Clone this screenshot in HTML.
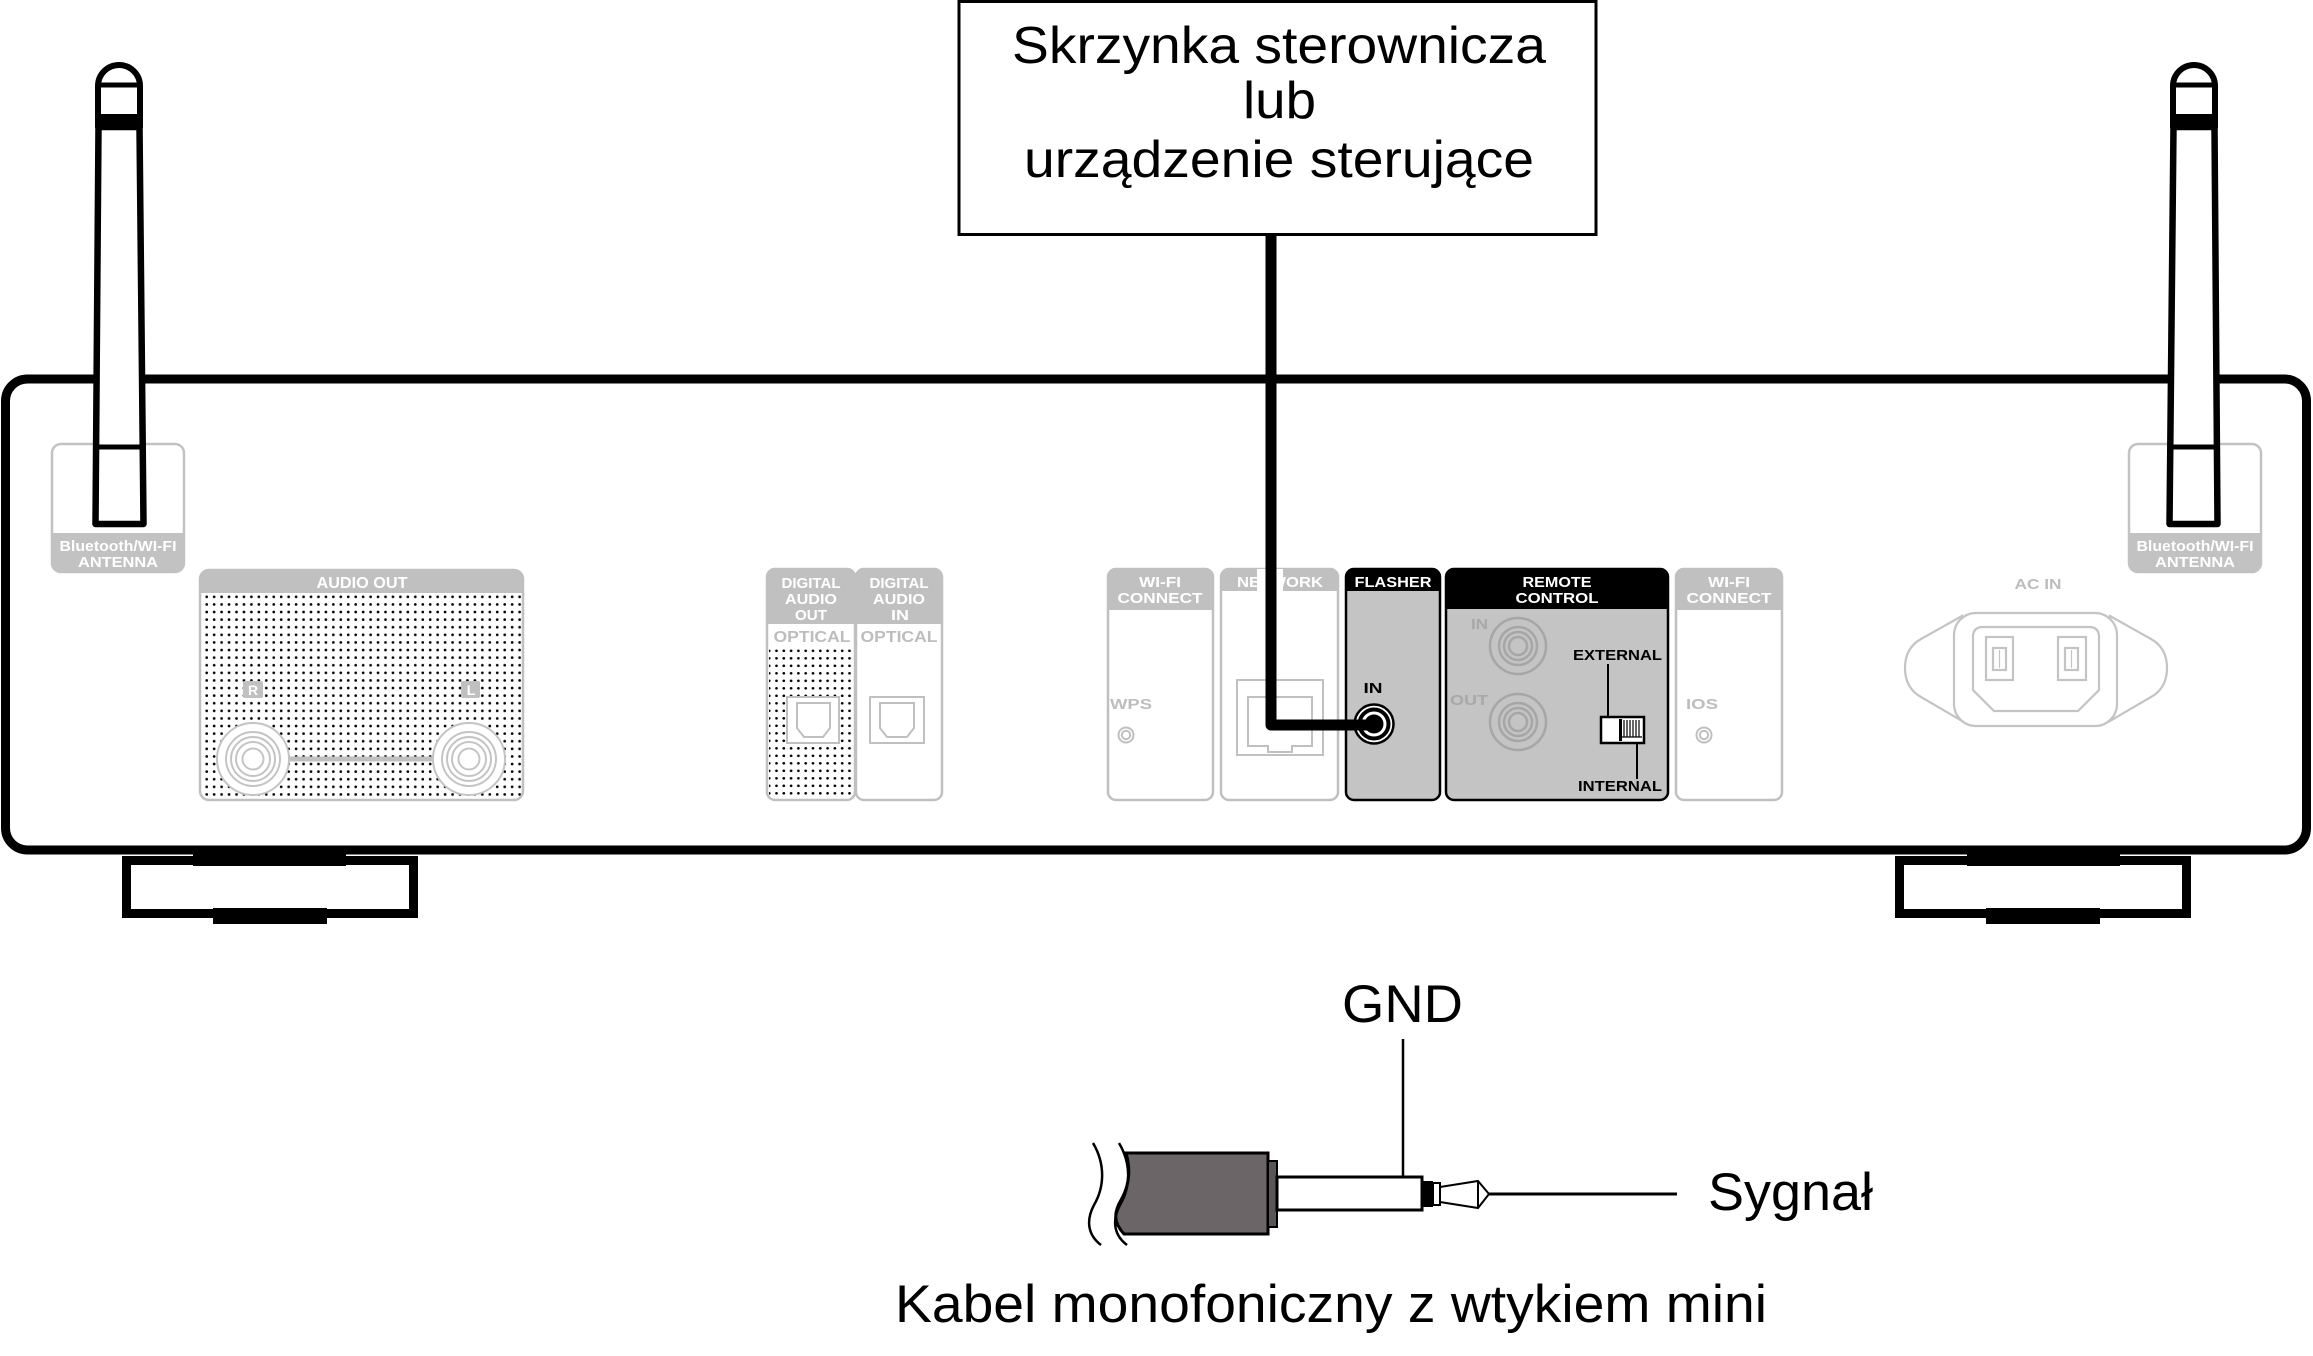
<!DOCTYPE html>
<html><head><meta charset="utf-8"><style>html,body{margin:0;padding:0;background:#fff}svg{display:block}</style></head>
<body>
<svg width="2313" height="1356" viewBox="0 0 2313 1356" xmlns="http://www.w3.org/2000/svg" font-family="Liberation Sans, Arial, sans-serif">
<defs>
<pattern id="dots" patternUnits="userSpaceOnUse" x="203" y="593" width="7.45" height="7.6"><circle cx="3.7" cy="3.8" r="1.35" fill="#000"/></pattern>
<pattern id="dots2" patternUnits="userSpaceOnUse" x="766" y="647" width="7.3" height="7.5"><circle cx="3.2" cy="3.8" r="1.35" fill="#000"/></pattern>
<g id="ant">
 <path d="M98.5 127 L95.5 524 H143.5 L139.5 127 Z" fill="#fff" stroke="#000" stroke-width="6.5" stroke-linejoin="round"/>
 <line x1="96" y1="447" x2="143" y2="447" stroke="#000" stroke-width="5"/>
 <path d="M98 122 V86 A21 21 0 0 1 140 86 V122" fill="#fff" stroke="#000" stroke-width="6"/>
 <line x1="98" y1="85" x2="140" y2="85" stroke="#000" stroke-width="5"/>
 <rect x="95" y="114" width="48" height="14" fill="#000"/>
</g>
<g id="foot">
 <rect x="126.5" y="860.5" width="287" height="53" fill="#fff" stroke="#000" stroke-width="9"/>
 <rect x="193" y="846" width="153" height="20" fill="#000"/>
 <rect x="213" y="908" width="114" height="16" fill="#000"/>
</g>
<g id="antbox">
 <rect x="52" y="444" width="132" height="128" rx="9" fill="#fff" stroke="#c2c2c2" stroke-width="2.5"/>
 <path d="M52 533 H184 V563 Q184 572 175 572 H61 Q52 572 52 563 Z" fill="#c2c2c2"/>
</g>
</defs>

<!-- control box -->
<rect x="959" y="1.5" width="637" height="233" fill="#fff" stroke="#000" stroke-width="3"/>
<g font-size="52" fill="#000">
<text x="1012" y="63" textLength="534" lengthAdjust="spacingAndGlyphs">Skrzynka sterownicza</text>
<text x="1243" y="118" textLength="73" lengthAdjust="spacingAndGlyphs">lub</text>
<text x="1024" y="177" textLength="510" lengthAdjust="spacingAndGlyphs">urządzenie sterujące</text>
</g>

<!-- chassis -->
<rect x="5.5" y="379" width="2301" height="471" rx="22" fill="#fff" stroke="#000" stroke-width="9"/>
<use href="#foot"/>
<use href="#foot" transform="translate(2313 0) scale(-1 1)"/>

<!-- antenna boxes -->
<use href="#antbox"/>
<use href="#antbox" transform="translate(2313 0) scale(-1 1)"/>
<use href="#ant"/>
<use href="#ant" transform="translate(2313 0) scale(-1 1)"/>
<g font-size="15" font-weight="bold" fill="#fff" text-anchor="middle">
<text x="118" y="551" textLength="117" lengthAdjust="spacingAndGlyphs">Bluetooth/WI-FI</text>
<text x="118" y="567" textLength="80" lengthAdjust="spacingAndGlyphs">ANTENNA</text>
<text x="2195" y="551" textLength="117" lengthAdjust="spacingAndGlyphs">Bluetooth/WI-FI</text>
<text x="2195" y="567" textLength="80" lengthAdjust="spacingAndGlyphs">ANTENNA</text>
</g>

<!-- AUDIO OUT -->
<rect x="200" y="570" width="323" height="230" rx="9" fill="#fff"/>
<rect x="202" y="593" width="319" height="205" fill="url(#dots)"/>
<path d="M200 593 V579 Q200 570 209 570 H514 Q523 570 523 579 V593 Z" fill="#c0c0c0"/>
<rect x="200" y="570" width="323" height="230" rx="9" fill="none" stroke="#c0c0c0" stroke-width="2.5"/>
<text x="362" y="588" font-size="15.5" font-weight="bold" fill="#fff" text-anchor="middle" textLength="91" lengthAdjust="spacingAndGlyphs">AUDIO OUT</text>
<rect x="243" y="681" width="20" height="17" rx="2" fill="#c0c0c0"/>
<rect x="461" y="681" width="19" height="17" rx="2" fill="#c0c0c0"/>
<text x="253" y="695" font-size="14" font-weight="bold" fill="#fff" text-anchor="middle">R</text>
<text x="471" y="695" font-size="14" font-weight="bold" fill="#fff" text-anchor="middle">L</text>
<rect x="288" y="756.5" width="146" height="5" fill="#c0c0c0"/>
<g fill="#fff" stroke="#c4c4c4" stroke-width="2">
<circle cx="253" cy="759" r="36"/><circle cx="253" cy="759" r="27"/><circle cx="253" cy="759" r="22"/><circle cx="253" cy="759" r="17"/><circle cx="253" cy="759" r="10.5"/>
<circle cx="469" cy="759" r="36"/><circle cx="469" cy="759" r="27"/><circle cx="469" cy="759" r="22"/><circle cx="469" cy="759" r="17"/><circle cx="469" cy="759" r="10.5"/>
</g>

<!-- DIGITAL AUDIO OUT / IN -->
<rect x="767" y="569" width="88" height="231" rx="8" fill="#fff"/>
<rect x="769" y="648" width="84" height="150" fill="url(#dots2)"/>
<path d="M767 624 V577 Q767 569 775 569 H847 Q855 569 855 577 V624 Z" fill="#c0c0c0"/>
<rect x="767" y="569" width="88" height="231" rx="8" fill="none" stroke="#c0c0c0" stroke-width="2.5"/>
<path d="M856 624 V577 Q856 569 864 569 H934 Q942 569 942 577 V624 Z" fill="#c0c0c0"/>
<rect x="856" y="569" width="86" height="231" rx="8" fill="none" stroke="#c0c0c0" stroke-width="2.5"/>
<g font-size="14.5" font-weight="bold" fill="#fff" text-anchor="middle">
<text x="811" y="588" textLength="59" lengthAdjust="spacingAndGlyphs">DIGITAL</text>
<text x="811" y="604" textLength="52" lengthAdjust="spacingAndGlyphs">AUDIO</text>
<text x="811" y="620" textLength="32" lengthAdjust="spacingAndGlyphs">OUT</text>
<text x="899" y="588" textLength="59" lengthAdjust="spacingAndGlyphs">DIGITAL</text>
<text x="899" y="604" textLength="52" lengthAdjust="spacingAndGlyphs">AUDIO</text>
<text x="900" y="620" textLength="18" lengthAdjust="spacingAndGlyphs">IN</text>
</g>
<g font-size="15.5" font-weight="bold" fill="#bdbdbd" text-anchor="middle">
<text x="812" y="642" textLength="77" lengthAdjust="spacingAndGlyphs">OPTICAL</text>
<text x="899" y="642" textLength="77" lengthAdjust="spacingAndGlyphs">OPTICAL</text>
</g>
<g fill="#fff" stroke="#c0c0c0" stroke-width="2">
<rect x="787" y="697" width="52" height="46"/>
<path d="M797 703 H830 V728 L823 737 H804 L797 728 Z"/>
<rect x="870" y="697" width="54" height="46"/>
<path d="M880 703 H914 V728 L907 737 H887 L880 728 Z"/>
</g>

<!-- WI-FI CONNECT left -->
<rect x="1108" y="569" width="105" height="231" rx="8" fill="#fff"/>
<path d="M1108 610 V577 Q1108 569 1116 569 H1205 Q1213 569 1213 577 V610 Z" fill="#c0c0c0"/>
<rect x="1108" y="569" width="105" height="231" rx="8" fill="none" stroke="#c0c0c0" stroke-width="2.5"/>
<!-- NETWORK -->
<rect x="1221" y="569" width="117" height="231" rx="8" fill="#fff"/>
<path d="M1221 591 V577 Q1221 569 1229 569 H1330 Q1338 569 1338 577 V591 Z" fill="#c0c0c0"/>
<rect x="1221" y="569" width="117" height="231" rx="8" fill="none" stroke="#c0c0c0" stroke-width="2.5"/>
<!-- WI-FI CONNECT right -->
<rect x="1676" y="569" width="106" height="231" rx="8" fill="#fff"/>
<path d="M1676 610 V577 Q1676 569 1684 569 H1774 Q1782 569 1782 577 V610 Z" fill="#c0c0c0"/>
<rect x="1676" y="569" width="106" height="231" rx="8" fill="none" stroke="#c0c0c0" stroke-width="2.5"/>
<g font-size="14.5" font-weight="bold" fill="#fff" text-anchor="middle">
<text x="1160" y="587" textLength="42" lengthAdjust="spacingAndGlyphs">WI-FI</text>
<text x="1160" y="603" textLength="85" lengthAdjust="spacingAndGlyphs">CONNECT</text>
<text x="1280" y="587" textLength="86" lengthAdjust="spacingAndGlyphs">NETWORK</text>
<text x="1729" y="587" textLength="42" lengthAdjust="spacingAndGlyphs">WI-FI</text>
<text x="1729" y="603" textLength="85" lengthAdjust="spacingAndGlyphs">CONNECT</text>
</g>
<g font-size="15" font-weight="bold" fill="#bdbdbd">
<text x="1110" y="709" textLength="42" lengthAdjust="spacingAndGlyphs">WPS</text>
<text x="1686" y="709" textLength="32" lengthAdjust="spacingAndGlyphs">IOS</text>
<text x="2038" y="589" text-anchor="middle" textLength="47" lengthAdjust="spacingAndGlyphs">AC IN</text>
</g>
<g fill="#fff" stroke="#c0c0c0" stroke-width="2">
<circle cx="1126" cy="735" r="7.5"/><circle cx="1126" cy="735" r="4.2"/>
<circle cx="1704" cy="735" r="7.5"/><circle cx="1704" cy="735" r="4.2"/>
<rect x="1237" y="680" width="86" height="75"/>
<path d="M1248 697 H1312 V746 H1292 V752 H1268 V746 H1248 Z"/>
</g>

<!-- FLASHER -->
<rect x="1346" y="569" width="94" height="231" rx="8" fill="#c4c4c4"/>
<path d="M1346 591 V577 Q1346 569 1354 569 H1432 Q1440 569 1440 577 V591 Z" fill="#000"/>
<rect x="1346" y="569" width="94" height="231" rx="8" fill="none" stroke="#000" stroke-width="2.5"/>
<text x="1393" y="587" font-size="14.5" font-weight="bold" fill="#fff" text-anchor="middle" textLength="77" lengthAdjust="spacingAndGlyphs">FLASHER</text>
<text x="1373" y="693" font-size="14.5" font-weight="bold" fill="#000" text-anchor="middle" textLength="19" lengthAdjust="spacingAndGlyphs">IN</text>

<!-- REMOTE CONTROL -->
<rect x="1446" y="569" width="222" height="231" rx="8" fill="#c4c4c4"/>
<path d="M1446 609 V577 Q1446 569 1454 569 H1660 Q1668 569 1668 577 V609 Z" fill="#000"/>
<rect x="1446" y="569" width="222" height="231" rx="8" fill="none" stroke="#000" stroke-width="2.5"/>
<g font-size="14.5" font-weight="bold" fill="#fff" text-anchor="middle">
<text x="1557" y="587" textLength="69" lengthAdjust="spacingAndGlyphs">REMOTE</text>
<text x="1557" y="603" textLength="83" lengthAdjust="spacingAndGlyphs">CONTROL</text>
</g>
<g font-size="14.5" font-weight="bold" fill="#a8a8a8">
<text x="1471" y="629" textLength="17" lengthAdjust="spacingAndGlyphs">IN</text>
<text x="1450" y="705" textLength="38" lengthAdjust="spacingAndGlyphs">OUT</text>
</g>
<g fill="none" stroke="#a6a6a6" stroke-width="2.5">
<circle cx="1518" cy="646" r="28"/><circle cx="1518" cy="646" r="19"/><circle cx="1518" cy="646" r="14"/><circle cx="1518" cy="646" r="9"/>
<circle cx="1518" cy="722" r="28"/><circle cx="1518" cy="722" r="19"/><circle cx="1518" cy="722" r="14"/><circle cx="1518" cy="722" r="9"/>
</g>
<g font-size="14.5" font-weight="bold" fill="#000">
<text x="1573" y="660" textLength="89" lengthAdjust="spacingAndGlyphs">EXTERNAL</text>
<text x="1578" y="791" textLength="84" lengthAdjust="spacingAndGlyphs">INTERNAL</text>
</g>
<line x1="1608" y1="664" x2="1608" y2="717" stroke="#000" stroke-width="2"/>
<line x1="1637" y1="743" x2="1637" y2="779" stroke="#000" stroke-width="2"/>
<rect x="1601" y="717" width="43" height="26" fill="#fff" stroke="#000" stroke-width="2.5"/>
<rect x="1619" y="719" width="3" height="22" fill="#000"/>
<g stroke="#000" stroke-width="1.2">
<line x1="1624" y1="720" x2="1624" y2="737"/><line x1="1627" y1="720" x2="1627" y2="737"/><line x1="1630" y1="720" x2="1630" y2="737"/><line x1="1633" y1="720" x2="1633" y2="737"/><line x1="1636" y1="720" x2="1636" y2="737"/><line x1="1639" y1="720" x2="1639" y2="737"/>
<line x1="1622" y1="737" x2="1642" y2="737"/>
</g>

<!-- AC IN -->
<g fill="#fff" stroke="#c4c4c4" stroke-width="2.2">
<path d="M1962 616 L1921 639 Q1905 648 1905 668 Q1905 688 1921 697 L1962 721 Z"/>
<path d="M2110 616 L2151 639 Q2167 648 2167 668 Q2167 688 2151 697 L2110 721 Z"/>
<rect x="1954" y="613" width="163" height="113" rx="22"/>
<path d="M1983 627 H2089 Q2099 627 2099 637 V690 L2078 711 H1994 L1973 690 V637 Q1973 627 1983 627 Z"/>
<rect x="1986" y="637" width="27" height="43"/>
<rect x="1993" y="648" width="13" height="22"/>
<rect x="2058" y="637" width="28" height="43"/>
<rect x="2065" y="648" width="13" height="22"/>
</g>
<g stroke="#c4c4c4" stroke-width="1.2"><line x1="1999.5" y1="650" x2="1999.5" y2="668"/><line x1="2071.5" y1="650" x2="2071.5" y2="668"/></g>

<!-- cable from control box -->
<rect x="1257" y="569" width="26" height="23" fill="#fff"/>
<g>
<circle cx="1374" cy="724" r="19.5" fill="#fff" stroke="#000" stroke-width="2.5"/>
<circle cx="1374" cy="724" r="14.5" fill="#fff" stroke="#000" stroke-width="4"/>
<circle cx="1374" cy="724" r="9.5" fill="#000"/>
</g>
<path d="M1271 235 V725 H1372" fill="none" stroke="#000" stroke-width="11" stroke-linejoin="round"/>

<!-- mini plug -->
<text x="1342" y="1022" font-size="53" textLength="121" lengthAdjust="spacingAndGlyphs">GND</text>
<line x1="1403" y1="1039" x2="1403" y2="1178" stroke="#000" stroke-width="2.5"/>
<g fill="none" stroke="#000" stroke-width="2.5">
<path d="M1093 1143 C1106 1165 1104 1188 1094 1205 C1085 1222 1089 1236 1101 1245"/>
</g>
<path d="M1126 1153 H1268 V1234 H1124 C1113 1222 1114 1212 1121 1200 C1129 1186 1131 1170 1126 1153 Z" fill="#6b6568" stroke="#000" stroke-width="3"/>
<path d="M1119 1143 C1132 1165 1130 1188 1120 1205 C1111 1222 1115 1236 1127 1245" fill="none" stroke="#000" stroke-width="2.5"/>
<rect x="1268" y="1161" width="9" height="66" fill="#5a5557" stroke="#000" stroke-width="2"/>
<rect x="1277" y="1177" width="145" height="33" fill="#fff" stroke="#000" stroke-width="3"/>
<rect x="1421" y="1181" width="12" height="26" fill="#000"/>
<rect x="1433" y="1183" width="7" height="22" fill="#fff" stroke="#000" stroke-width="2"/>
<path d="M1440 1187 L1478 1181 L1489 1194 L1478 1208 L1440 1202 Z" fill="#fff" stroke="#000" stroke-width="2"/>
<line x1="1478" y1="1181" x2="1478" y2="1208" stroke="#000" stroke-width="2"/>
<line x1="1489" y1="1194" x2="1677" y2="1194" stroke="#000" stroke-width="3"/>
<text x="1708" y="1210" font-size="53" textLength="165" lengthAdjust="spacingAndGlyphs">Sygnał</text>
<text x="895" y="1322" font-size="53" textLength="872" lengthAdjust="spacingAndGlyphs">Kabel monofoniczny z wtykiem mini</text>
</svg>
</body></html>
